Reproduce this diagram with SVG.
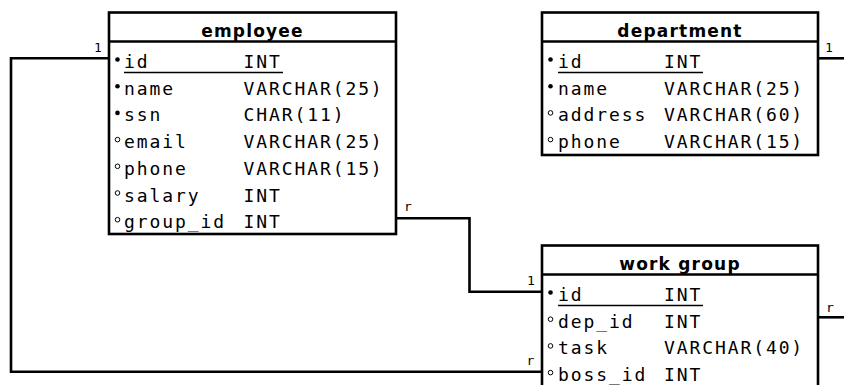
<svg xmlns="http://www.w3.org/2000/svg" width="844" height="385" viewBox="0 0 844 385">
<style>
.box{fill:#fff;stroke:#000;stroke-width:2.6}
.div{stroke:#000;stroke-width:2.6}
.hdr{font-family:"DejaVu Sans",sans-serif;font-weight:bold;font-size:17px;letter-spacing:1.2px;text-anchor:middle;fill:#000}
.row{font-family:"DejaVu Sans Mono",monospace;font-size:18px;letter-spacing:1.9px;fill:#000}
.ul{stroke:#000;stroke-width:1.4}
.man{fill:#000}
.opt{fill:#fff;stroke:#000;stroke-width:1}
.con{fill:none;stroke:#000;stroke-width:2.6}
.lbl{font-family:"DejaVu Sans Mono",monospace;font-size:13px;fill:#000}
</style>
<g id="connectors">
<polyline class="con" points="109,58.3 11,58.3 11,371.7 542,371.7"/>
<polyline class="con" points="396,218.3 469.5,218.3 469.5,291.7 542,291.7"/>
<polyline class="con" points="818,58.3 846,58.3"/>
<polyline class="con" points="818,317.3 846,317.3"/>
<text class="lbl" x="94" y="52">1</text>
<text class="lbl" x="404" y="211">r</text>
<text class="lbl" x="825" y="52">1</text>
<text class="lbl" x="527" y="284.5">1</text>
<text class="lbl" x="826" y="311.5">r</text>
<text class="lbl" x="526.5" y="365">r</text>
</g>
<g id="employee">
<rect class="box" x="109" y="12.5" width="287" height="221.5"/>
<line class="div" x1="109" y1="41.5" x2="396" y2="41.5"/>
<text class="hdr" x="252.5" y="36.5">employee</text>
<line class="ul" x1="124" y1="72.5" x2="283" y2="72.5"/>
<circle class="man" cx="117.5" cy="59.5" r="2.3"/>
<circle class="man" cx="117.5" cy="86.2" r="2.3"/>
<circle class="man" cx="117.5" cy="112.9" r="2.3"/>
<circle class="opt" cx="117.5" cy="139.6" r="2.3"/>
<circle class="opt" cx="117.5" cy="166.3" r="2.3"/>
<circle class="opt" cx="117.5" cy="193" r="2.3"/>
<circle class="opt" cx="117.5" cy="219.7" r="2.3"/>
<text class="row" x="124" y="68">id</text><text class="row" x="243.5" y="68">INT</text>
<text class="row" x="124" y="94.7">name</text><text class="row" x="243.5" y="94.7">VARCHAR(25)</text>
<text class="row" x="124" y="121.4">ssn</text><text class="row" x="243.5" y="121.4">CHAR(11)</text>
<text class="row" x="124" y="148.1">email</text><text class="row" x="243.5" y="148.1">VARCHAR(25)</text>
<text class="row" x="124" y="174.8">phone</text><text class="row" x="243.5" y="174.8">VARCHAR(15)</text>
<text class="row" x="124" y="201.5">salary</text><text class="row" x="243.5" y="201.5">INT</text>
<text class="row" x="124" y="228.2">group_id</text><text class="row" x="243.5" y="228.2">INT</text>
</g>
<g id="department">
<rect class="box" x="542" y="12.5" width="276" height="142.5"/>
<line class="div" x1="542" y1="41.5" x2="818" y2="41.5"/>
<text class="hdr" x="680" y="36.5">department</text>
<line class="ul" x1="558" y1="72.5" x2="703" y2="72.5"/>
<circle class="man" cx="550.5" cy="59.5" r="2.3"/>
<circle class="man" cx="550.5" cy="86.2" r="2.3"/>
<circle class="opt" cx="550.5" cy="112.9" r="2.3"/>
<circle class="opt" cx="550.5" cy="139.6" r="2.3"/>
<text class="row" x="558" y="68">id</text><text class="row" x="664" y="68">INT</text>
<text class="row" x="558" y="94.7">name</text><text class="row" x="664" y="94.7">VARCHAR(25)</text>
<text class="row" x="558" y="121.4">address</text><text class="row" x="664" y="121.4">VARCHAR(60)</text>
<text class="row" x="558" y="148.1">phone</text><text class="row" x="664" y="148.1">VARCHAR(15)</text>
</g>
<g id="work_group">
<rect class="box" x="542" y="245.5" width="276" height="150"/>
<line class="div" x1="542" y1="274.5" x2="818" y2="274.5"/>
<text class="hdr" x="680" y="269.5">work group</text>
<line class="ul" x1="558" y1="305.5" x2="703" y2="305.5"/>
<circle class="man" cx="550.5" cy="292.5" r="2.3"/>
<circle class="opt" cx="550.5" cy="319.2" r="2.3"/>
<circle class="opt" cx="550.5" cy="345.9" r="2.3"/>
<circle class="opt" cx="550.5" cy="372.6" r="2.3"/>
<text class="row" x="558" y="301">id</text><text class="row" x="664" y="301">INT</text>
<text class="row" x="558" y="327.7">dep_id</text><text class="row" x="664" y="327.7">INT</text>
<text class="row" x="558" y="354.4">task</text><text class="row" x="664" y="354.4">VARCHAR(40)</text>
<text class="row" x="558" y="381.1">boss_id</text><text class="row" x="664" y="381.1">INT</text>
</g>
</svg>
